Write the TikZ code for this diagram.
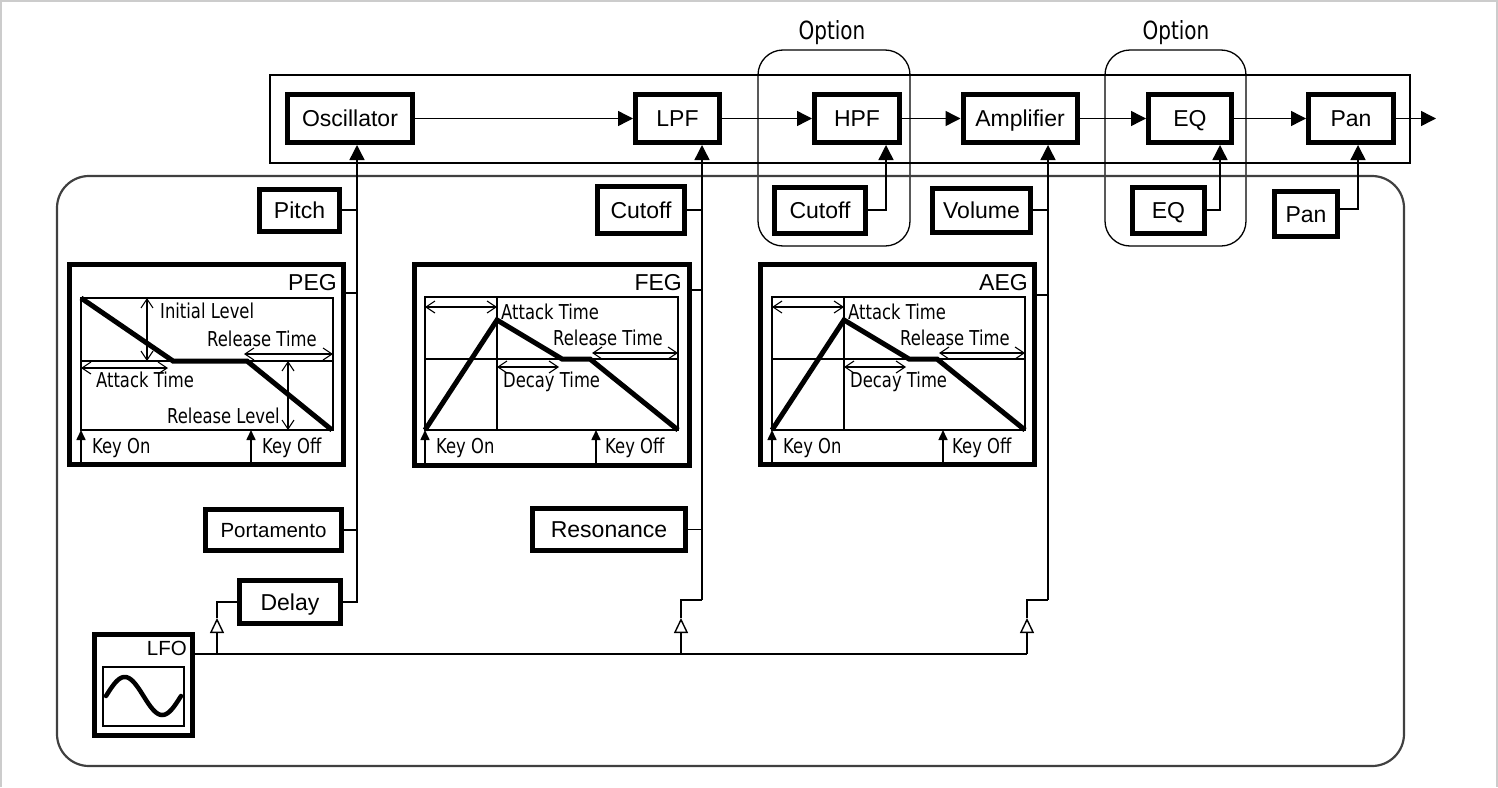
\documentclass[tikz,border=0pt]{standalone}
\usepackage{fontspec}
\setmainfont{Liberation Sans}
\newfontfamily\egfont[FakeStretch=0.8]{DejaVu Sans}
\usetikzlibrary{arrows.meta}

\newcommand\adsrgraph[2]{%
\begin{scope}[shift={(#1,0)}]
\draw[grid] (0,297) rectangle (253,430);
\draw[grid] (0,359) -- (253,359);
\draw[grid] (72,297) -- (72,430);
\draw[env] (0,430) -- (72,320) -- (137,359) -- (165,359) -- (253,430);
\draw[dbl] (0,307) -- (72,307);
\node[et, anchor=base west] (#2at) at (76,319) {Attack Time};
\draw[dbl] (167,353) -- (253,353);
\node[et, anchor=base west] (#2rt) at (128,345) {Release Time};
\draw[dbl] (72,367) -- (134,367);
\node[et, anchor=base west] (#2dt) at (78,387) {Decay Time};
\draw[key] (0,463) -- (0,430);
\draw[key] (171,463) -- (171,430);
\node[et, anchor=base west] (#2kon) at (11,453) {Key On};
\node[et, anchor=base west] (#2koff) at (180,453) {Key Off};
\end{scope}}

\begin{document}
\begin{tikzpicture}[x=1pt,y=-1pt,
 blk/.style={draw, line width=5pt, inner sep=0pt, fill=white, font=\fontsize{23}{27}\selectfont, text height=16.5pt, text depth=0pt},
 egbox/.style={draw, line width=5pt, inner sep=0pt},
 ln/.style={line width=1.4pt},
 arr/.style={ln, -{Triangle[length=15pt,width=15pt]}},
 tri/.style={ln, -{Triangle[open,length=15pt,width=14pt,fill=white]}},
 dbl/.style={line width=1.1pt, {Straight Barb[length=9pt,width=12pt]}-{Straight Barb[length=9pt,width=12pt]}},
 env/.style={line width=5pt, line join=miter},
 grid/.style={line width=1.1pt},
 et/.style={font=\egfont\fontsize{20.5}{24}\selectfont, inner sep=0pt},
 egl/.style={font=\fontsize{23}{27}\selectfont, inner sep=0pt, anchor=base east},
 key/.style={line width=1.6pt, -{Triangle[length=10pt,width=9pt]}},
 opt/.style={font=\egfont\fontsize{25}{29}\selectfont, inner sep=0pt},
 frame/.style={line width=1.3pt},
]
\useasboundingbox (0,0) rectangle (1498,787);
\draw[black!20, line width=2pt] (1,787) -- (1,1) -- (1497,1) -- (1497,787);

% frames
\draw[frame] (270,75) rectangle (1410,163);
\draw[frame, rounded corners=25pt] (758,50) rectangle (910,246);
\draw[frame, rounded corners=25pt] (1105,50) rectangle (1246,246);
\draw[line width=2.2pt, draw=black!75, rounded corners=32pt] (57,176) rectangle (1404,766);
\node[opt] (opt1) at (832,33) {Option};
\node[opt] (opt2) at (1176,33) {Option};

% signal chain
\node[blk, minimum width=125pt, minimum height=48pt] (osc) at (350,118.5) {Oscillator};
\node[blk, minimum width=84pt, minimum height=48pt] (lpf) at (677.5,118.5) {LPF};
\node[blk, minimum width=85pt, minimum height=48pt] (hpf) at (857,118.5) {HPF};
\node[blk, minimum width=114pt, minimum height=48pt] (amp) at (1020,118.5) {Amplifier};
\node[blk, minimum width=83pt, minimum height=48pt] (eq) at (1190,118.5) {EQ};
\node[blk, minimum width=85pt, minimum height=48pt] (pan) at (1351,118.5) {Pan};
\coordinate (out) at (1436,118.5);
\draw[arr] (osc) -- (lpf);
\draw[arr] (lpf) -- (hpf);
\draw[arr] (hpf) -- (amp);
\draw[arr] (amp) -- (eq);
\draw[arr] (eq) -- (pan);
\draw[arr] (pan) -- (out);

% control boxes
\node[blk, minimum width=80pt, minimum height=42pt] (pitch) at (299.5,210) {Pitch};
\node[blk, minimum width=87pt, minimum height=47pt] (cut1) at (641,210) {Cutoff};
\node[blk, minimum width=91pt, minimum height=46pt] (cut2) at (820,210) {Cutoff};
\node[blk, minimum width=98pt, minimum height=44pt] (vol) at (981.5,210) {Volume};
\node[blk, minimum width=72pt, minimum height=46pt] (eq2) at (1168.5,210) {EQ};
\node[blk, minimum width=63pt, minimum height=45pt] (pan2) at (1306,214) {Pan};
\node[blk, minimum width=136pt, minimum height=41pt, font=\fontsize{20.5}{24}\selectfont, text height=14.7pt] (porta) at (273.5,530) {Portamento};
\node[blk, minimum width=153pt, minimum height=42pt] (reso) at (609,529.5) {Resonance};
\node[blk, minimum width=101pt, minimum height=43pt] (delay) at (290,602) {Delay};

% envelope boxes
\node[egbox, minimum width=274pt, minimum height=200pt] (peg) at (206.5,364.5) {};
\node[egbox, minimum width=275pt, minimum height=201pt] (feg) at (552,365) {};
\node[egbox, minimum width=274pt, minimum height=200pt] (aeg) at (897.5,364.5) {};
\node[egl] (pegl) at (337,290) {PEG};
\node[egl] (fegl) at (682,290) {FEG};
\node[egl] (aegl) at (1028,290) {AEG};

% PEG graph
\draw[grid] (81,298) rectangle (333,430);
\draw[grid] (81,361) -- (333,361);
\draw[env] (81,298) -- (173,361) -- (247,361) -- (332,430);
\draw[dbl] (147,298) -- (147,361);
\node[et, anchor=base west] (pil) at (160,318) {Initial Level};
\draw[dbl] (244,354) -- (333,354);
\node[et, anchor=base west] (prt) at (207,346) {Release Time};
\draw[dbl] (81,368) -- (168,368);
\node[et, anchor=base west] (pat) at (96,387) {Attack Time};
\draw[dbl] (288,361) -- (288,430);
\node[et, anchor=base east] (prl) at (280,423) {Release Level};
\draw[key] (81,463) -- (81,430);
\draw[key] (251,463) -- (251,430);
\node[et, anchor=base west] (pkon) at (92,453) {Key On};
\node[et, anchor=base west] (pkoff) at (262,453) {Key Off};

\adsrgraph{425}{f}
\adsrgraph{772}{a}

% LFO
\node[egbox, minimum width=98pt, minimum height=101pt] (lfo) at (143.5,685) {};
\node[egl, font=\fontsize{20.5}{24}\selectfont] (lfol) at (187,655) {LFO};
\draw[grid] (103,667) rectangle (184,726);
\draw[line width=4.5pt, line cap=round] plot[domain=0:360, samples=72] ({106+\x/360*75}, {696-19*sin(\x)});

% modulation lines
\coordinate (ox) at (357,0);
\coordinate (lx) at (702,0);
\coordinate (ax) at (1048,0);
\coordinate (hx) at (886,0);
\coordinate (ex) at (1220,0);
\coordinate (px) at (1358,0);

\draw[arr] (delay.east) -| (ox |- osc.south);
\draw[ln] (pitch.east) -- (pitch.east -| ox);
\draw[ln] (peg.east |- 0,293) -- (ox |- 0,293);
\draw[ln] (porta.east) -- (porta.east -| ox);

\coordinate (lj) at (702,600);
\draw[arr] (lj) -- (lx |- lpf.south);
\draw[ln] (cut1.east) -- (cut1.east -| lx);
\draw[ln] (feg.east |- 0,290) -- (lx |- 0,290);
\draw[ln] (reso.east) -- (reso.east -| lx);

\coordinate (aj) at (1048,600);
\draw[arr] (aj) -- (ax |- amp.south);
\draw[ln] (vol.east) -- (vol.east -| ax);
\draw[ln] (aeg.east |- 0,295) -- (ax |- 0,295);

\draw[arr] (cut2.east) -| (hx |- hpf.south);
\draw[arr] (eq2.east) -| (ex |- eq.south);
\draw[arr] (pan2.east |- 0,209) -| (px |- pan.south);

% LFO bus
\coordinate (b1) at (217,654);
\coordinate (b2) at (681,654);
\coordinate (b3) at (1027,654);
\draw[ln] (lfo.east |- b1) -- (b3);
\draw[tri] (b1) -- (217,618);
\draw[ln] (217,618) |- (delay.west);
\draw[tri] (b2) -- (681,618);
\draw[ln] (681,618) |- (lj);
\draw[tri] (b3) -- (1027,618);
\draw[ln] (1027,618) |- (aj);
\end{tikzpicture}
\end{document}
